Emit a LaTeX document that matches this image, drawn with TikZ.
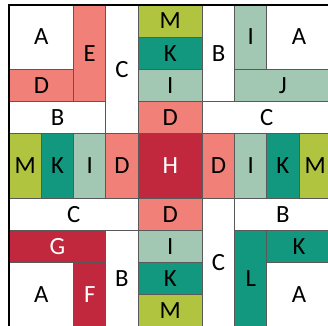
\documentclass[tikz,border=0pt]{standalone}
\usepackage{fontspec}
\setmainfont{Carlito}
\usepackage{tikz}

\definecolor{salmon}{HTML}{F08078}
\definecolor{crimson}{HTML}{C1283D}
\definecolor{teal}{HTML}{12987F}
\definecolor{sage}{HTML}{A2C8B4}
\definecolor{lime}{HTML}{B0C440}

\tikzset{
  tile/.style={draw=black!65, line width=0.5pt},
  lbl/.style={font=\fontsize{17.5}{20}\selectfont, inner sep=0pt},
  lblw/.style={lbl, text=white}
}

\begin{document}
\begin{tikzpicture}[x=0.8cm, y=0.8cm]
\useasboundingbox (-0.286,0.056) rectangle (9.9,10.149);

% Top left
\fill[white] (0,10) rectangle (2,8); \draw[tile] (0,10) rectangle (2,8);
\node[lbl] (a1) at (1,9) {A};
\fill[salmon] (0,8) rectangle (2,7); \draw[tile] (0,8) rectangle (2,7);
\node[lbl] (d1) at (1,7.5) {D};
\fill[salmon] (2,10) rectangle (3,7); \draw[tile] (2,10) rectangle (3,7);
\node[lbl] (e1) at (2.5,8.5) {E};
\draw[tile] (3,10) rectangle (4,6);
\node[lbl] (c1) at (3.5,8) {C};
\draw[tile] (0,7) rectangle (3,6);
\node[lbl] (b1) at (1.5,6.5) {B};

% Top column
\fill[lime] (4,10) rectangle (6,9); \draw[tile] (4,10) rectangle (6,9);
\node[lbl] (m1) at (5,9.5) {M};
\fill[teal] (4,9) rectangle (6,8); \draw[tile] (4,9) rectangle (6,8);
\node[lbl] (k1) at (5,8.5) {K};
\fill[sage] (4,8) rectangle (6,7); \draw[tile] (4,8) rectangle (6,7);
\node[lbl] (i1) at (5,7.5) {I};
\fill[salmon] (4,7) rectangle (6,6); \draw[tile] (4,7) rectangle (6,6);
\node[lbl] (d2) at (5,6.5) {D};

% Top right
\draw[tile] (6,10) rectangle (7,7);
\node[lbl] (b2) at (6.5,8.5) {B};
\fill[sage] (7,10) rectangle (8,8); \draw[tile] (7,10) rectangle (8,8);
\node[lbl] (i2) at (7.5,9) {I};
\draw[tile] (8,10) rectangle (10,8);
\node[lbl] (a2) at (9,9) {A};
\fill[sage] (7,8) rectangle (10,7); \draw[tile] (7,8) rectangle (10,7);
\node[lbl] (j1) at (8.5,7.5) {J};
\draw[tile] (6,7) rectangle (10,6);
\node[lbl] (c2) at (8,6.5) {C};

% Middle row
\fill[lime] (0,6) rectangle (1,4); \draw[tile] (0,6) rectangle (1,4);
\node[lbl] (m2) at (0.5,5) {M};
\fill[teal] (1,6) rectangle (2,4); \draw[tile] (1,6) rectangle (2,4);
\node[lbl] (k2) at (1.5,5) {K};
\fill[sage] (2,6) rectangle (3,4); \draw[tile] (2,6) rectangle (3,4);
\node[lbl] (i3) at (2.5,5) {I};
\fill[salmon] (3,6) rectangle (4,4); \draw[tile] (3,6) rectangle (4,4);
\node[lbl] (d3) at (3.5,5) {D};
\fill[crimson] (4,6) rectangle (6,4); \draw[tile] (4,6) rectangle (6,4);
\node[lblw] (h1) at (5,5) {H};
\fill[salmon] (6,6) rectangle (7,4); \draw[tile] (6,6) rectangle (7,4);
\node[lbl] (d4) at (6.5,5) {D};
\fill[sage] (7,6) rectangle (8,4); \draw[tile] (7,6) rectangle (8,4);
\node[lbl] (i4) at (7.5,5) {I};
\fill[teal] (8,6) rectangle (9,4); \draw[tile] (8,6) rectangle (9,4);
\node[lbl] (k3) at (8.5,5) {K};
\fill[lime] (9,6) rectangle (10,4); \draw[tile] (9,6) rectangle (10,4);
\node[lbl] (m3) at (9.5,5) {M};

% Bottom left
\draw[tile] (0,4) rectangle (4,3);
\node[lbl] (c3) at (2,3.5) {C};
\fill[crimson] (0,3) rectangle (3,2); \draw[tile] (0,3) rectangle (3,2);
\node[lblw] (g1) at (1.5,2.5) {G};
\draw[tile] (3,3) rectangle (4,0);
\node[lbl] (b3) at (3.5,1.5) {B};
\draw[tile] (0,2) rectangle (2,0);
\node[lbl] (a3) at (1,1) {A};
\fill[crimson] (2,2) rectangle (3,0); \draw[tile] (2,2) rectangle (3,0);
\node[lblw] (f1) at (2.5,1) {F};

% Bottom column
\fill[salmon] (4,4) rectangle (6,3); \draw[tile] (4,4) rectangle (6,3);
\node[lbl] (d5) at (5,3.5) {D};
\fill[sage] (4,3) rectangle (6,2); \draw[tile] (4,3) rectangle (6,2);
\node[lbl] (i5) at (5,2.5) {I};
\fill[teal] (4,2) rectangle (6,1); \draw[tile] (4,2) rectangle (6,1);
\node[lbl] (k4) at (5,1.5) {K};
\fill[lime] (4,1) rectangle (6,0); \draw[tile] (4,1) rectangle (6,0);
\node[lbl] (m4) at (5,0.5) {M};

% Bottom right
\draw[tile] (6,4) rectangle (7,0);
\node[lbl] (c4) at (6.5,2) {C};
\draw[tile] (7,4) rectangle (10,3);
\node[lbl] (b4) at (8.5,3.5) {B};
\fill[teal] (7,3) rectangle (8,0); \draw[tile] (7,3) rectangle (8,0);
\node[lbl] (l1) at (7.5,1.5) {L};
\fill[teal] (8,3) rectangle (10,2); \draw[tile] (8,3) rectangle (10,2);
\node[lbl] (k5) at (9,2.5) {K};
\draw[tile] (8,2) rectangle (10,0);
\node[lbl] (a4) at (9,1) {A};

% Frame
\draw[line width=1.2pt] (0,0) rectangle (10,10);
\end{tikzpicture}
\end{document}
